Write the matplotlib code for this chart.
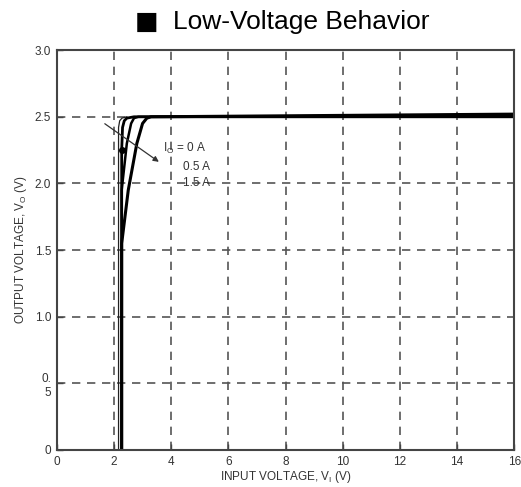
import matplotlib
matplotlib.use("Agg")
import matplotlib.pyplot as plt

plt.rcParams['font.family'] = ['Liberation Sans', 'DejaVu Sans']

# curves (input V, output V)
vin_0a = [2.27, 2.27, 2.30, 2.36, 2.45, 2.70, 16.0]
vout_0a = [0.0, 2.25, 2.42, 2.47, 2.49, 2.50, 2.50]
vin_0a_thin = [2.16, 2.16, 2.20, 2.28, 2.45]
vout_0a_thin = [0.0, 2.42, 2.47, 2.49, 2.50]
vin_05a = [2.27, 2.27, 2.45, 2.60, 2.70, 2.85, 16.0]
vout_05a = [0.0, 1.95, 2.30, 2.45, 2.49, 2.50, 2.51]
vin_15a = [2.27, 2.27, 2.50, 2.80, 3.00, 3.15, 3.30, 16.0]
vout_15a = [0.0, 1.55, 1.95, 2.30, 2.45, 2.49, 2.50, 2.52]

x_ticks = [0, 2, 4, 6, 8, 10, 12, 14, 16]
y_ticks = [0, 0.5, 1.0, 1.5, 2.0, 2.5, 3.0]
y_tick_labels = ["0", "0.\n5", "1.0", "1.5", "2.0", "2.5", "3.0"]
curve_labels = ["I$_\\mathregular{O}$ = 0 A", "0.5 A", "1.5 A"]

fig = plt.figure(figsize=(5.21, 4.87), dpi=100)
ax = fig.add_axes([0.109, 0.076, 0.878, 0.821])

ax.plot(vin_0a_thin, vout_0a_thin, color="#222", lw=0.9)
ax.plot(vin_0a, vout_0a, color="black", lw=2.0)
ax.plot(vin_05a, vout_05a, color="black", lw=1.8)
ax.plot(vin_15a, vout_15a, color="black", lw=2.2)
ax.plot([2.27], [2.25], "o", color="black", ms=4)

ax.set_xlim(0, 16)
ax.set_ylim(0, 3.0)
ax.set_xticks(x_ticks)
ax.set_yticks(y_ticks)
ax.set_yticklabels(y_tick_labels)
ax.grid(True, color="#555", lw=1.2, linestyle=(0, (5, 4)))
ax.tick_params(direction="in", length=4, width=1, colors="#444",
               labelsize=8.5, labelcolor="#333", pad=4)
for s in ax.spines.values():
    s.set_color("#444")
    s.set_linewidth(1.5)

ax.set_xlabel("INPUT VOLTAGE, V$_\\mathregular{I}$ (V)", fontsize=8.5,
              color="#333", labelpad=1)
ax.set_ylabel("OUTPUT VOLTAGE, V$_\\mathregular{O}$ (V)", fontsize=8.5,
              color="#333", labelpad=4)

# arrow showing increasing load current
ax.annotate("", xy=(3.65, 2.15), xytext=(1.6, 2.46),
            arrowprops=dict(arrowstyle="-|>", color="#333", lw=0.9,
                            mutation_scale=8))
ax.text(3.72, 2.26, curve_labels[0], fontsize=8.5, color="#333", va="center")
ax.text(4.4, 2.12, curve_labels[1], fontsize=8.5, color="#333", va="center")
ax.text(4.4, 2.00, curve_labels[2], fontsize=8.5, color="#333", va="center")

fig.text(0.259, 0.955, "\u25a0", fontsize=18, family="DejaVu Sans",
         va="center", ha="left")
fig.text(0.332, 0.955, "Low-Voltage Behavior", fontsize=19,
         va="center", ha="left")

fig.savefig("out.png", dpi=100)
